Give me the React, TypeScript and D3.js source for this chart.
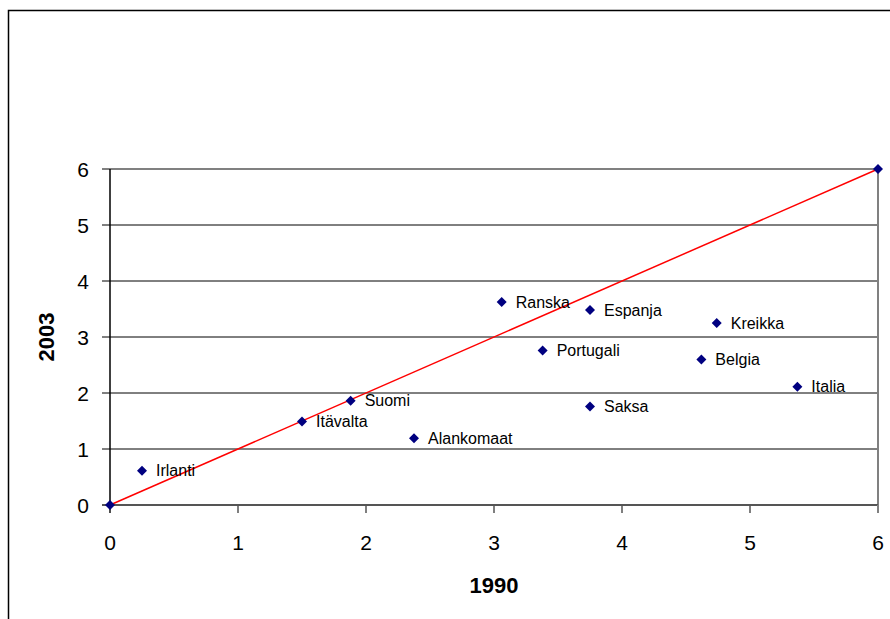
import React from "react";
import * as d3 from "d3";

const countries = ["Irlanti", "Itävalta", "Suomi", "Alankomaat", "Ranska", "Espanja", "Portugali", "Saksa", "Kreikka", "Belgia", "Italia"];
const values1990 = [0.25, 1.5, 1.88, 2.375, 3.06, 3.75, 3.38, 3.75, 4.74, 4.62, 5.37];
const values2003 = [0.61, 1.49, 1.86, 1.19, 3.625, 3.48, 2.76, 1.76, 3.25, 2.6, 2.11];
const refLine = [0, 6];
const ticks = [0, 1, 2, 3, 4, 5, 6];
const xTitle = "1990";
const yTitle = "2003";

const W = 890;
const H = 619;
const left = 110, right = 878, top = 169, bottom = 505;
const font = "Arial, 'Liberation Sans', sans-serif";

export default function App() {
  const x = d3.scaleLinear().domain([0, 6]).range([left, right]);
  const y = d3.scaleLinear().domain([0, 6]).range([bottom, top]);
  const diamond = (cx: number, cy: number, r = 5) =>
    `M${cx},${cy - r}L${cx + r},${cy}L${cx},${cy + r}L${cx - r},${cy}Z`;
  const line = d3.line<number>().x((d) => x(d)).y((d) => y(d));

  return (
    <svg width={W} height={H} style={{ position: "absolute", left: 0, top: 0, background: "#fff" }} fontFamily={font}>
      {/* outer frame */}
      <path d={`M8.5,${H}V10.5H${W}`} fill="none" stroke="#000" strokeWidth={1.5} />
      {/* gridlines */}
      {ticks.slice(1).map((t) => (
        <line key={"g" + t} x1={left} x2={right} y1={y(t)} y2={y(t)} stroke={t === 6 ? "#808080" : "#000"} strokeWidth={t === 6 ? 2 : 1} />
      ))}
      {/* right plot border */}
      <line x1={right} x2={right} y1={top} y2={bottom} stroke="#808080" strokeWidth={2} />
      {/* y axis */}
      <line x1={left} x2={left} y1={top} y2={bottom + 8} stroke="#000" strokeWidth={1.5} />
      {ticks.map((t) => (
        <line key={"yt" + t} x1={left - 8} x2={left} y1={y(t)} y2={y(t)} stroke="#000" strokeWidth={1} />
      ))}
      {ticks.map((t) => (
        <text key={"yl" + t} x={89} y={y(t) + 7.5} textAnchor="end" fontSize={21} fill="#000">{t}</text>
      ))}
      {/* x axis */}
      <line x1={left - 8} x2={right} y1={bottom} y2={bottom} stroke="#555" strokeWidth={2} />
      {ticks.map((t) => (
        <line key={"xt" + t} x1={x(t)} x2={x(t)} y1={bottom} y2={bottom + 8} stroke={t === 6 ? "#808080" : "#555"} strokeWidth={t === 6 ? 2 : 1.5} />
      ))}
      {ticks.map((t) => (
        <text key={"xl" + t} x={x(t)} y={550} textAnchor="middle" fontSize={21} fill="#000">{t}</text>
      ))}
      {/* titles */}
      <text x={494} y={593} textAnchor="middle" fontSize={22} fontWeight="bold">{xTitle}</text>
      <text transform={`translate(54,${337}) rotate(-90)`} textAnchor="middle" fontSize={22} fontWeight="bold">{yTitle}</text>
      {/* reference line */}
      <path d={line(refLine) || ""} fill="none" stroke="#ff0000" strokeWidth={1.5} />
      {refLine.map((v, i) => (
        <path key={"r" + i} d={diamond(x(v), y(v))} fill="#000080" />
      ))}
      {/* points */}
      {countries.map((c, i) => (
        <g key={c}>
          <path d={diamond(x(values1990[i]), y(values2003[i]))} fill="#000080" />
          <text x={x(values1990[i]) + 14} y={y(values2003[i]) + 5.5} fontSize={16} fill="#000">{c}</text>
        </g>
      ))}
    </svg>
  );
}
